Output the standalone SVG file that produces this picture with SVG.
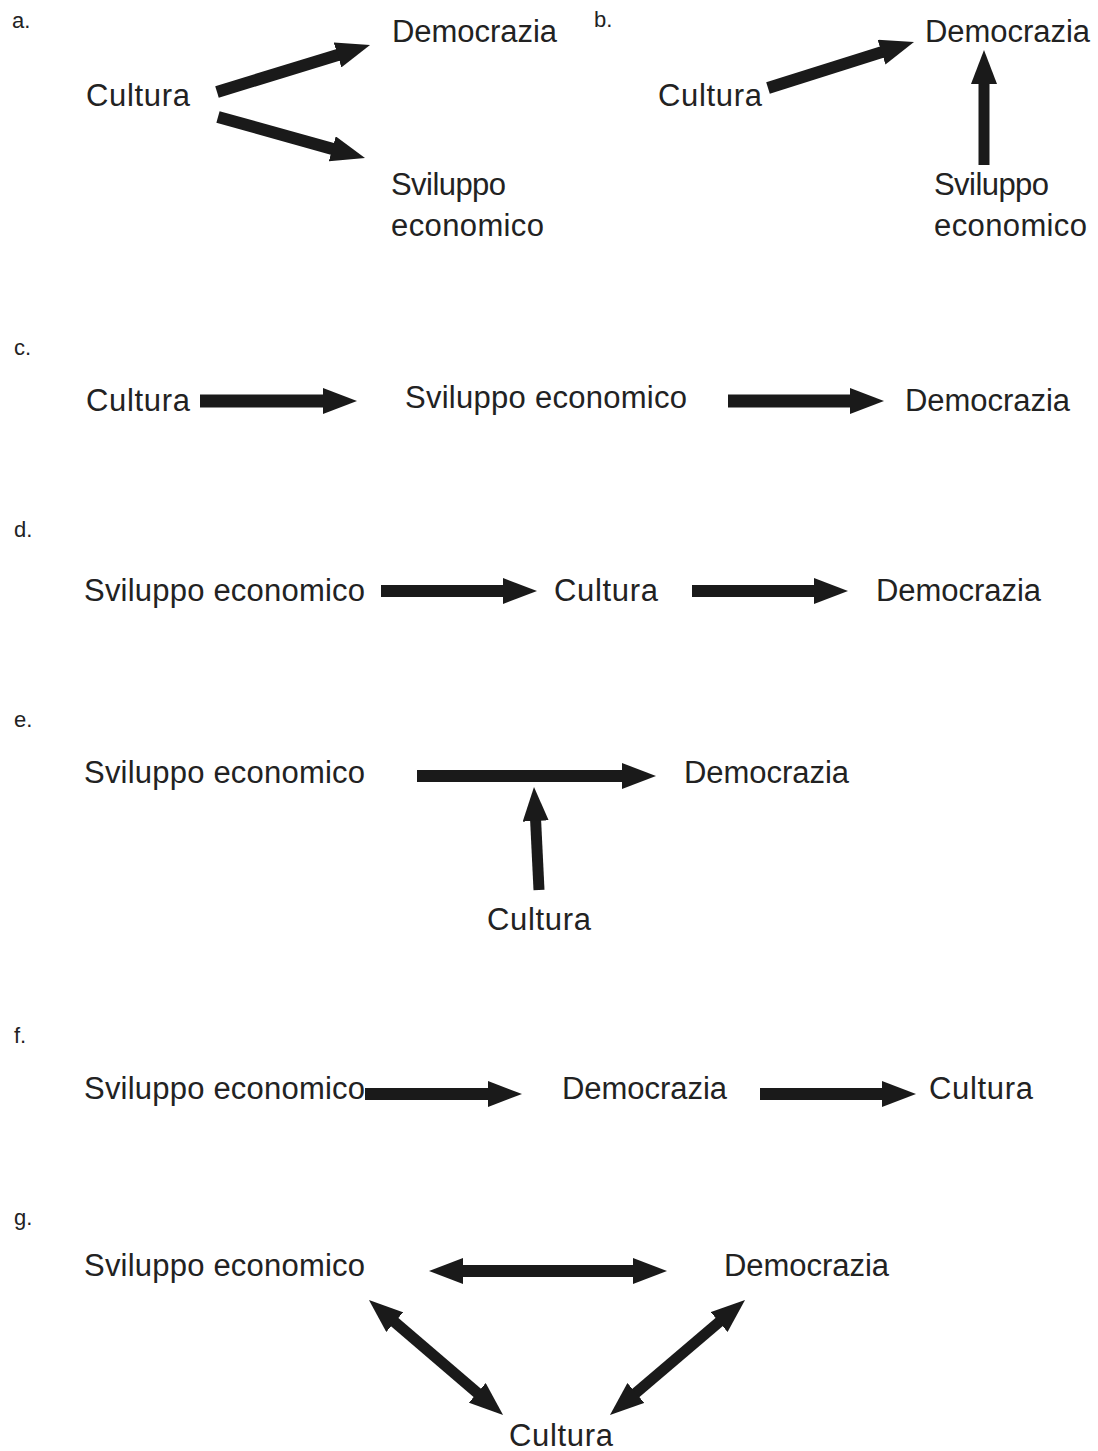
<svg xmlns="http://www.w3.org/2000/svg" width="1098" height="1451" viewBox="0 0 1098 1451">
<style>
text{font-family:"Liberation Sans",Arial,sans-serif;fill:#222;}
.n{font-size:31px;}
.lab{font-size:22px;}
.c line{stroke:#1a1a1a;stroke-width:12;fill:none;}
</style>
<defs>
<marker id="ah" viewBox="0 0 34 26" refX="1" refY="13" markerWidth="34" markerHeight="26" markerUnits="userSpaceOnUse" orient="auto-start-reverse">
<path d="M0,0 L34,13 L0,26 z" fill="#1a1a1a"/>
</marker>
</defs>
<rect width="1098" height="1451" fill="#fff"/>
<g id="labels">
<text class="lab" x="12" y="28">a.</text>
<text class="lab" x="594" y="27">b.</text>
<text class="lab" x="14" y="355">c.</text>
<text class="lab" x="14" y="537">d.</text>
<text class="lab" x="14" y="727">e.</text>
<text class="lab" x="14" y="1043">f.</text>
<text class="lab" x="14" y="1225">g.</text>
</g>
<g id="a-democrazia"><text class="n" x="392" y="42" textLength="165">Democrazia</text></g>
<g id="a-cultura"><text class="n" x="86" y="106" textLength="104">Cultura</text></g>
<g id="a-sviluppo"><text class="n" x="391" y="195" textLength="115">Sviluppo</text><text class="n" x="391" y="236" textLength="153">economico</text></g>
<g id="b-democrazia"><text class="n" x="925" y="42" textLength="165">Democrazia</text></g>
<g id="b-cultura"><text class="n" x="658" y="106" textLength="104">Cultura</text></g>
<g id="b-sviluppo"><text class="n" x="934" y="195" textLength="115">Sviluppo</text><text class="n" x="934" y="236" textLength="153">economico</text></g>
<g id="c-cultura"><text class="n" x="86" y="411" textLength="104">Cultura</text></g>
<g id="c-sviluppo"><text class="n" x="405" y="408" textLength="282">Sviluppo economico</text></g>
<g id="c-democrazia"><text class="n" x="905" y="411" textLength="165">Democrazia</text></g>
<g id="d-sviluppo"><text class="n" x="84" y="601" textLength="281">Sviluppo economico</text></g>
<g id="d-cultura"><text class="n" x="554" y="601" textLength="104">Cultura</text></g>
<g id="d-democrazia"><text class="n" x="876" y="601" textLength="165">Democrazia</text></g>
<g id="e-sviluppo"><text class="n" x="84" y="783" textLength="281">Sviluppo economico</text></g>
<g id="e-democrazia"><text class="n" x="684" y="783" textLength="165">Democrazia</text></g>
<g id="e-cultura"><text class="n" x="487" y="930" textLength="104">Cultura</text></g>
<g id="f-sviluppo"><text class="n" x="84" y="1099" textLength="281">Sviluppo economico</text></g>
<g id="f-democrazia"><text class="n" x="562" y="1099" textLength="165">Democrazia</text></g>
<g id="f-cultura"><text class="n" x="929" y="1099" textLength="104">Cultura</text></g>
<g id="g-sviluppo"><text class="n" x="84" y="1276" textLength="281">Sviluppo economico</text></g>
<g id="g-democrazia"><text class="n" x="724" y="1276" textLength="165">Democrazia</text></g>
<g id="g-cultura"><text class="n" x="509" y="1446" textLength="104">Cultura</text></g>
<g id="connectors" class="c">
<line x1="217" y1="92" x2="338.5" y2="54.7" marker-end="url(#ah)"/>
<line x1="218" y1="117" x2="333.2" y2="149.1" marker-end="url(#ah)"/>
<line x1="768" y1="88" x2="882.5" y2="51.9" marker-end="url(#ah)"/>
<line x1="984" y1="165" x2="984" y2="83" style="stroke-width:11" marker-end="url(#ah)"/>
<line x1="200" y1="401" x2="324" y2="401" style="stroke-width:13" marker-end="url(#ah)"/>
<line x1="728" y1="401" x2="851" y2="401" style="stroke-width:13" marker-end="url(#ah)"/>
<line x1="381" y1="591" x2="504" y2="591" marker-end="url(#ah)"/>
<line x1="692" y1="591" x2="815" y2="591" marker-end="url(#ah)"/>
<line x1="417" y1="776" x2="623" y2="776" marker-end="url(#ah)"/>
<line x1="539" y1="890" x2="535.6" y2="820" style="stroke-width:11" marker-end="url(#ah)"/>
<line x1="365" y1="1094" x2="489" y2="1094" marker-end="url(#ah)"/>
<line x1="760" y1="1094" x2="883" y2="1094" marker-end="url(#ah)"/>
<line x1="462" y1="1271" x2="634" y2="1271" marker-start="url(#ah)" marker-end="url(#ah)"/>
<line x1="394" y1="1321.5" x2="478" y2="1393.5" style="stroke-width:11" marker-start="url(#ah)" marker-end="url(#ah)"/>
<line x1="719.9" y1="1321.4" x2="635.1" y2="1393.6" style="stroke-width:11" marker-start="url(#ah)" marker-end="url(#ah)"/>
</g>
</svg>
